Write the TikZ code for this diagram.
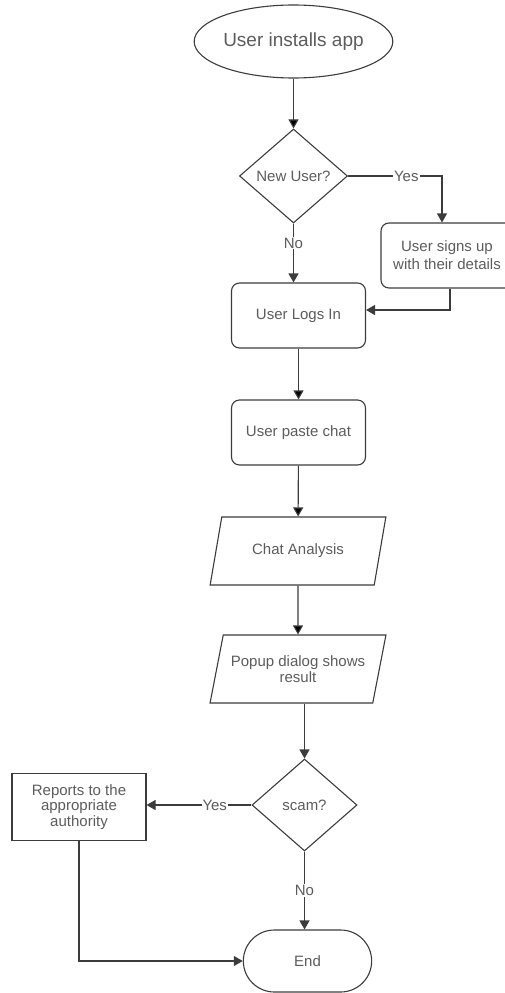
\documentclass[tikz,border=0pt]{standalone}
\usepackage{fontspec}
\setmainfont{Liberation Sans}
\usetikzlibrary{shapes.geometric,shapes.misc,arrows.meta}

\definecolor{linegray}{HTML}{3C3C3C}
\definecolor{textgray}{HTML}{5C5C5C}

\tikzset{
  flowline/.style={draw=linegray, line width=1.1pt},
  flowarrow/.style={flowline, -{Triangle[length=9pt,width=10pt]}},
  startnode/.style={ellipse, flowline, minimum width=163pt, minimum height=73pt, inner sep=0pt, text=textgray, font=\fontsize{19}{22}\selectfont},
  decide/.style={diamond, flowline, inner sep=0pt, text=textgray, font=\fontsize{15}{17}\selectfont},
  procbox/.style={rectangle, rounded corners=8pt, flowline, minimum width=134pt, minimum height=65pt, align=center, text=textgray, font=\fontsize{15}{18}\selectfont},
  iobox/.style={trapezium, trapezium left angle=70, trapezium right angle=110, trapezium stretches=true, flowline, minimum width=176pt, minimum height=68pt, align=center, text=textgray, font=\fontsize{15}{16.5}\selectfont},
  plainbox/.style={rectangle, flowline, minimum width=134pt, minimum height=67pt, align=center, text=textgray, font=\fontsize{15}{15.5}\selectfont},
  endnode/.style={rounded rectangle, flowline, minimum width=135pt, minimum height=62pt, text=textgray, font=\fontsize{15}{17}\selectfont},
  linelabel/.style={fill=white, inner sep=1pt, text=textgray, font=\fontsize{15}{17}\selectfont}
}

\begin{document}
\begin{tikzpicture}[x=1pt, y=-1pt]
	\useasboundingbox (0, 0) rectangle (504, 993);

	\draw (293.5, 41.5) node [startnode] (start) {User installs app};
	\draw (293.5, 176) node [decide, minimum width=108pt, minimum height=94pt] (newuser) {New User?};
	\draw (447, 255.5) node [procbox, minimum width=132pt] (signup) {User signs up\\with their details};
	\draw (298.5, 315.5) node [procbox] (login) {User Logs In};
	\draw (298.5, 432.5) node [procbox] (paste) {User paste chat};
	\draw (298, 551) node [iobox] (analysis) {Chat Analysis};
	\draw (298, 669) node [iobox] (popup) {Popup dialog shows\\result};
	\draw (304.5, 805) node [decide, minimum width=105pt, minimum height=92pt] (scam) {scam?};
	\draw (79, 807) node [plainbox] (report) {Reports to the\\appropriate\\authority};
	\draw (307.5, 961) node [endnode] (end) {End};
	\coordinate (signupturn) at (450, 310);

	\path [flowarrow] (start) edge (newuser);
	\draw [flowarrow] (newuser.east) -| node [linelabel, pos=0.31] {Yes} (signup.north -| 442, 0);
	\draw [flowarrow] (newuser.south) -- node [linelabel, pos=0.33] {No} (login.north -| newuser.south);
	\draw [flowarrow] (signup.south -| signupturn) -- (signupturn) -- (signupturn -| login.east);
	\path [flowarrow] (login) edge (paste);
	\path [flowarrow] (paste) edge (analysis);
	\path [flowarrow] (analysis) edge (popup);
	\draw [flowarrow] (popup.south -| scam.north) -- (scam.north);
	\draw [flowarrow] (scam.west) -- node [linelabel, pos=0.35] {Yes} (scam.west -| report.east);
	\draw [flowarrow] (scam.south) -- node [linelabel] {No} (scam.south |- end.north);
	\draw [flowarrow] (report.south) |- (end.west);
\end{tikzpicture}
\end{document}
